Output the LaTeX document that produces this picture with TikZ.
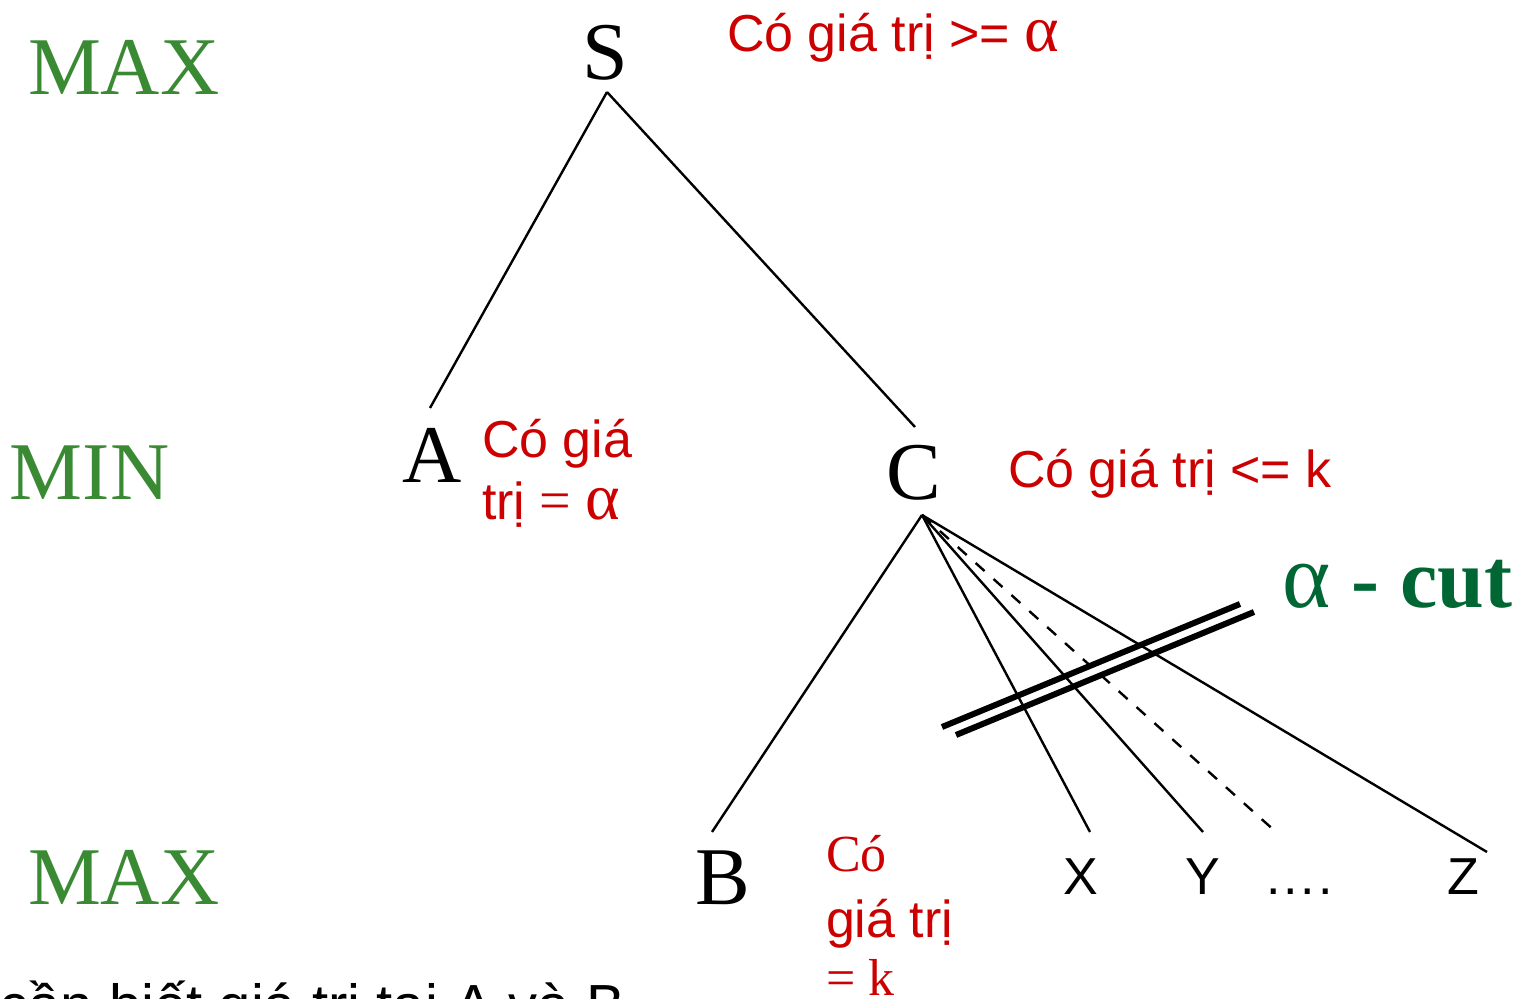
\documentclass[tikz,border=0pt]{standalone}
\usepackage{fontspec}
\setmainfont{Liberation Sans}
\newfontfamily\serif{Liberation Serif}
\newfontfamily\sans{Liberation Sans}
\definecolor{lvgreen}{RGB}{58,138,52}
\definecolor{lvred}{RGB}{204,0,0}
\definecolor{cutgreen}{RGB}{0,102,51}
\newcommand{\bigalpha}{{\serif\fontsize{33}{33}\selectfont α}}
\begin{document}
\begin{tikzpicture}[x=0.5pt,y=-0.5pt,
  txt/.style={anchor=base west,inner sep=0pt,outer sep=0pt},
  level/.style={txt,text=lvgreen,font=\serif\fontsize{41}{41}\selectfont},
  state/.style={txt,text=black,font=\serif\fontsize{41}{41}\selectfont},
  leaf/.style={txt,text=black,font=\sans\fontsize{26}{26}\selectfont},
  note/.style={txt,text=lvred,font=\sans\fontsize{26}{26}\selectfont},
  edge/.style={line width=1.2pt},
  cutline/.style={line width=3pt}]
\useasboundingbox (0,0) rectangle (1533,999);
\clip (0,0) rectangle (1533,999);
% level labels
\node[level] (max1) at (28,95) {MAX};
\node[level] (min1) at (10,500) {MIN};
\node[level] (max2) at (28,905) {MAX};
% state nodes
\node[state,anchor=base] (S) at (605,80) {S};
\node[state] (A) at (402,483) {A};
\node[state] (C) at (886,500) {C};
\node[state] (B) at (695,905) {B};
\node[leaf] (X) at (1063,895) {X};
\node[leaf] (Y) at (1185,895) {Y};
\node[leaf] (dots) at (1266,895) {.\kern1.5pt.\kern1.5pt.\kern1.5pt.};
\node[leaf] (Z) at (1447,895) {Z};
% connector end points
\coordinate (Sb) at (607,92);
\coordinate (At) at (430,408);
\coordinate (Ct) at (915,427);
\coordinate (Cb) at (922,515);
\coordinate (Bt) at (712,832);
\coordinate (Xt) at (1090,832);
\coordinate (Yt) at (1203,832);
\coordinate (Dt) at (1276,832);
\coordinate (Zt) at (1487,852);
\draw[edge] (Sb) -- (At);
\draw[edge] (Sb) -- (Ct);
\draw[edge] (Cb) -- (Bt);
\draw[edge] (Cb) -- (Xt);
\draw[edge] (Cb) -- (Yt);
\draw[edge,dash pattern=on 6 off 6] (Cb) -- (Dt);
\draw[edge] (Cb) -- (Zt);
% cut
\coordinate (c1a) at (942,727);
\coordinate (c1b) at (1240,604);
\coordinate (c2a) at (956,735);
\coordinate (c2b) at (1254,612);
\draw[cutline] (c1a) -- (c1b);
\draw[cutline] (c2a) -- (c2b);
\node[txt,text=cutgreen,font=\serif\bfseries\fontsize{42}{42}\selectfont] (cut) at (1282,608) {{\mdseries\fontsize{46}{46}\selectfont α} - cut};
% notes
\node[note] (nS) at (727,52) {Có giá trị >= \bigalpha};
\node[note] (nA1) at (482,458) {Có giá};
\node[note] (nA2) at (482,520) {trị {\serif\fontsize{28}{28}\selectfont =} \bigalpha};
\node[note] (nC) at (1008,488) {Có giá trị <= k};
\node[note,font=\serif\fontsize{26}{26}\selectfont] (nB1) at (826,872) {Có};
\node[note] (nB2) at (826,937) {giá trị};
\node[note,font=\serif\fontsize{26}{26}\selectfont] (nB3) at (826,995) {= k};
% bottom text
\node[txt,anchor=base east,font=\sans\fontsize{29}{29}\selectfont] (bottom) at (625,1025) {cần biết giá trị tại A và B};
\end{tikzpicture}
\end{document}
